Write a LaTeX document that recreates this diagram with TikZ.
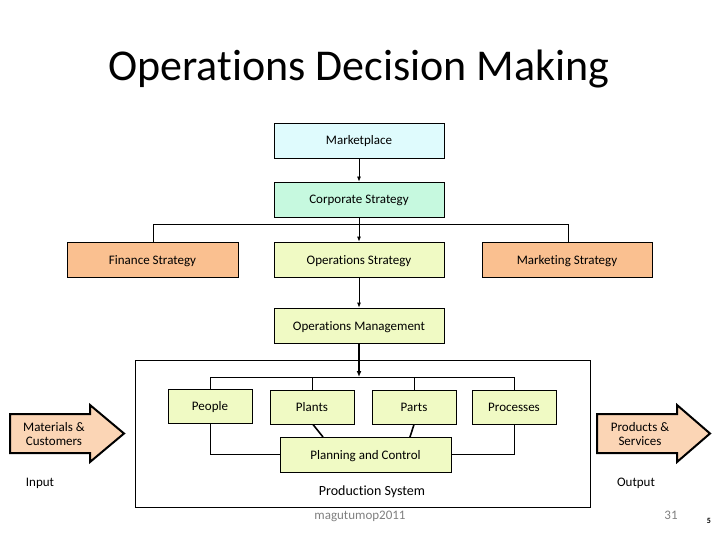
\documentclass[tikz,border=0pt]{standalone}
\usepackage{fontspec}
\setmainfont{Carlito}[Ligatures=NoCommon]
\usetikzlibrary{arrows.meta}
\definecolor{cyanfill}{HTML}{DFFBFD}
\definecolor{mintfill}{HTML}{C6F9DF}
\definecolor{yelfill}{HTML}{F0FAC4}
\definecolor{orgfill}{HTML}{FAC090}
\definecolor{peachfill}{HTML}{FBD5B5}
\definecolor{graytext}{HTML}{808080}
\tikzset{
  box/.style={draw=black, line width=0.8pt, minimum width=170pt, minimum height=35pt, inner sep=0pt, text height=9.5pt, text depth=0.5pt, font=\fontsize{13}{15}\selectfont},
  sbox/.style={box, minimum width=84pt, minimum height=34pt},
  conn/.style={line width=0.8pt},
  arr/.style={line width=0.8pt, -{Latex[length=5pt,width=4pt]}},
  lbl/.style={font=\fontsize{13}{14.5}\selectfont, inner sep=0pt, align=center},
  blockarrow/.style={draw=black, line width=2pt, fill=peachfill, line join=miter}
}
\begin{document}
\begin{tikzpicture}[x=1pt,y=-1pt]
\useasboundingbox (0,0) rectangle (720,540);
\node[inner sep=0pt, font=\fontsize{44}{48}\selectfont] (title) at (359,69) {Operations Decision Making};

\node[box, fill=cyanfill] (mkt) at (359,140.5) {Marketplace};
\node[box, fill=mintfill] (corp) at (359,199.5) {Corporate Strategy};
\node[box, fill=orgfill, minimum width=171pt] (fin) at (152.5,259.5) {Finance Strategy};
\node[box, fill=yelfill] (ops) at (359,259.5) {Operations Strategy};
\node[box, fill=orgfill] (mark) at (567,259.5) {Marketing Strategy};
\node[box, fill=yelfill] (opm) at (359,325.5) {Operations Management};

\draw[arr] (mkt) -- (corp);
\draw[arr] (corp) -- (ops);
\coordinate (hl) at (153,224);
\coordinate (hr) at (568,224);
\draw[conn] (fin.north -| hl) -- (hl) -- (hr) -- (mark.north -| hr);
\draw[arr] (ops) -- (opm);

% production system frame
\node[draw=black, line width=0.8pt, minimum width=455pt, minimum height=147pt, inner sep=0pt] (frame) at (362.5,433.5) {};
\node[lbl, font=\fontsize{14}{16}\selectfont] (ps) at (372,491.5) {Production System};

\node[sbox, fill=yelfill] (people) at (210,406) {People};
\node[sbox, fill=yelfill] (plants) at (312,407) {Plants};
\node[sbox, fill=yelfill] (parts) at (414,407) {Parts};
\node[sbox, fill=yelfill] (proc) at (514,407) {Processes};
\node[box, fill=yelfill, minimum width=171pt] (plan) at (365.5,454.5) {Planning and Control};

\coordinate (bl) at (210,377);
\coordinate (br) at (514,377);
\draw[conn] (people.north) -- (bl) -- (br) -- (proc.north);
\draw[conn] (plants.north) -- (plants.north |- bl);
\draw[conn] (parts.north) -- (parts.north |- bl);
\draw[line width=2pt, -{Latex[length=6pt,width=5pt]}] (opm) -- (359,377);

\draw[conn] (people.south) -- (people.south |- plan.west) -- (plan.west);
\draw[conn] (proc.south) -- (proc.south |- plan.east) -- (plan.east);
\draw[line width=1.6pt] (313,424.5) -- (323,437);
\draw[line width=1.6pt] (414,424.5) -- (410,437);

% block arrows
\draw[blockarrow] (10,414) -- (90,414) -- (90,405) -- (124,433.5) -- (90,462) -- (90,453) -- (10,453) -- cycle;
\node[lbl] (inarr) at (54,434) {Materials \&\\Customers};
\draw[blockarrow] (597,414) -- (677,414) -- (677,405) -- (710,433.5) -- (677,462) -- (677,453) -- (597,453) -- cycle;
\node[lbl] (outarr) at (640,434) {Products \&\\Services};

\node[lbl] (input) at (40,483.5) {Input};
\node[lbl] (output) at (636,483.5) {Output};

\node[lbl, text=graytext, font=\fontsize{13}{15}\selectfont] (mag) at (360,516) {magutumop2011};
\node[lbl, text=graytext, font=\fontsize{13}{15}\selectfont] (pg) at (671,515) {31};
\node[lbl, font=\bfseries\fontsize{8}{9}\selectfont] (pg2) at (709,521) {5};
\end{tikzpicture}
\end{document}
